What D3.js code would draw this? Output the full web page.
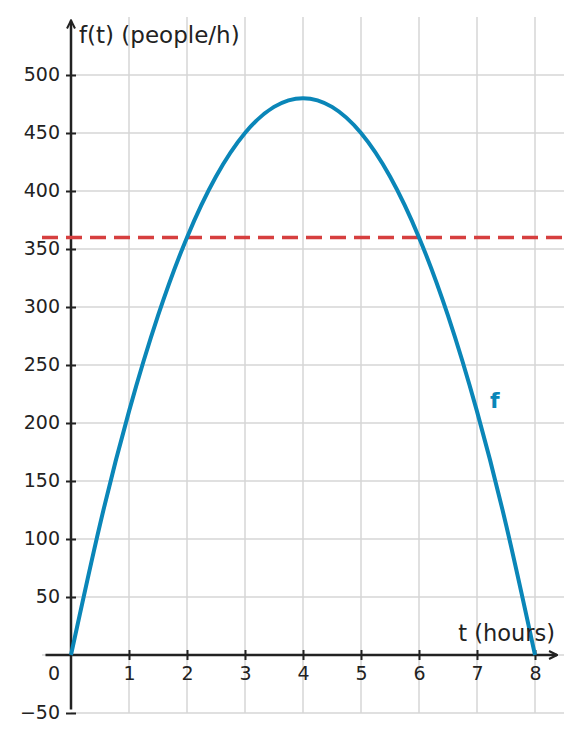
<!DOCTYPE html>
<html>
<head>
<meta charset="utf-8">
<script src="https://cdn.jsdelivr.net/npm/d3@7"></script>
<style>
	body { margin: 0; background: #fff; }
</style>
</head>
<body>
<script>
	// values
	var tValues = [0, 0.5, 1, 1.5, 2, 2.5, 3, 3.5, 4, 4.5, 5, 5.5, 6, 6.5, 7, 7.5, 8];
	var fValues = [0, 112.5, 210, 292.5, 360, 412.5, 450, 472.5, 480, 472.5, 450, 412.5, 360, 292.5, 210, 112.5, 0];
	var xTicks = [1, 2, 3, 4, 5, 6, 7, 8];
	var yTicks = [-50, 50, 100, 150, 200, 250, 300, 350, 400, 450, 500];
	var refLevel = 360;

	var W = 581, H = 741;
	var FONT = '"DejaVu Sans", sans-serif';
	var x = d3.scaleLinear().domain([-0.5, 8.5]).range([42, 564]),
	y = d3.scaleLinear().domain([-50, 550]).range([713, 17]);

	var svg = d3.select('body').append('svg')
	.attr('width', W)
	.attr('height', H);

	var defs = svg.append('defs');
	defs.append('marker')
	.attr('id', 'arrow')
	.attr('viewBox', '0 0 10 10')
	.attr('refX', 9).attr('refY', 5)
	.attr('markerWidth', 10).attr('markerHeight', 10)
	.attr('markerUnits', 'userSpaceOnUse')
	.attr('orient', 'auto')
	.append('path')
	.attr('d', 'M1,1 L9,5 L1,9')
	.attr('fill', 'none')
	.attr('stroke', '#222')
	.attr('stroke-width', 2);

	var grid = svg.append('g').attr('stroke', '#d6d6d6').attr('stroke-width', 1.5);
	grid.selectAll('.v').data(xTicks).enter().append('line')
	.attr('x1', function(d) { return x(d); }).attr('x2', function(d) { return x(d); })
	.attr('y1', y(550)).attr('y2', y(-50));
	grid.selectAll('.h').data(yTicks).enter().append('line')
	.attr('x1', x(0)).attr('x2', x(8.5))
	.attr('y1', function(d) { return y(d); }).attr('y2', function(d) { return y(d); });
	grid.append('line')
	.attr('x1', x(-0.5)).attr('x2', x(8.5))
	.attr('y1', y(0)).attr('y2', y(0));

	// axes
	svg.append('line')
	.attr('x1', x(-0.44)).attr('x2', x(8.38))
	.attr('y1', y(0)).attr('y2', y(0))
	.attr('stroke', '#222').attr('stroke-width', 2.5)
	.attr('marker-end', 'url(#arrow)');
	svg.append('line')
	.attr('x1', x(0)).attr('x2', x(0))
	.attr('y1', y(-47)).attr('y2', y(547))
	.attr('stroke', '#222').attr('stroke-width', 2.5)
	.attr('marker-end', 'url(#arrow)');

	var xAxis = d3.axisBottom(x).tickValues(xTicks).tickSize(0).tickPadding(0);
	var gx = svg.append('g').attr('transform', 'translate(0,' + y(0) + ')').call(xAxis);
	gx.select('.domain').remove();
	gx.selectAll('.tick line').attr('y1', -5).attr('y2', 5).attr('stroke', '#222').attr('stroke-width', 2);
	gx.selectAll('.tick text').attr('dy', null).attr('y', 25)
	.style('font-family', FONT).style('font-size', '19px').style('fill', '#222');

	var yAxis = d3.axisLeft(y).tickValues(yTicks).tickSize(0).tickPadding(0)
	.tickFormat(function(d) { return d < 0 ? '\u2212' + Math.abs(d) : d; });
	var gy = svg.append('g').attr('transform', 'translate(' + x(0) + ',0)').call(yAxis);
	gy.select('.domain').remove();
	gy.selectAll('.tick line').attr('x1', -5).attr('x2', 5).attr('stroke', '#222').attr('stroke-width', 2);
	gy.selectAll('.tick text').attr('x', -11).attr('dy', '0.28em')
	.style('font-family', FONT).style('font-size', '19px').style('fill', '#222');

	svg.append('text')
	.attr('x', x(0) - 11).attr('y', y(0) + 25)
	.attr('text-anchor', 'end')
	.style('font-family', FONT).style('font-size', '19px').style('fill', '#222')
	.text('0');

	// reference level
	svg.append('line')
	.attr('x1', x(-0.5)).attr('x2', x(8.5))
	.attr('y1', y(refLevel)).attr('y2', y(refLevel))
	.attr('stroke', '#d63f3f').attr('stroke-width', 3.5)
	.attr('stroke-dasharray', '16,8');

	var data = tValues.map(function(t, i) { return {t: t, f: fValues[i]}; });
	var line = d3.line()
	.curve(d3.curveNatural)
	.x(function(d) { return x(d.t); })
	.y(function(d) { return y(d.f); });

	svg.append('path')
	.datum(data)
	.attr('d', line)
	.attr('fill', 'none')
	.attr('stroke', '#0a86b8')
	.attr('stroke-width', 4);

	// labels
	svg.append('text')
	.attr('x', x(0) + 8).attr('y', 43)
	.style('font-family', FONT).style('font-size', '23px').style('fill', '#222')
	.text('f(t) (people/h)');
	svg.append('text')
	.attr('x', 555).attr('y', 641)
	.attr('text-anchor', 'end')
	.style('font-family', FONT).style('font-size', '22.5px').style('fill', '#222')
	.text('t (hours)');
	svg.append('text')
	.attr('x', 490).attr('y', 408)
	.style('font-family', FONT).style('font-size', '22px').style('font-weight', 'bold').style('fill', '#0a86b8')
	.text('f');
</script>
</body>
</html>
